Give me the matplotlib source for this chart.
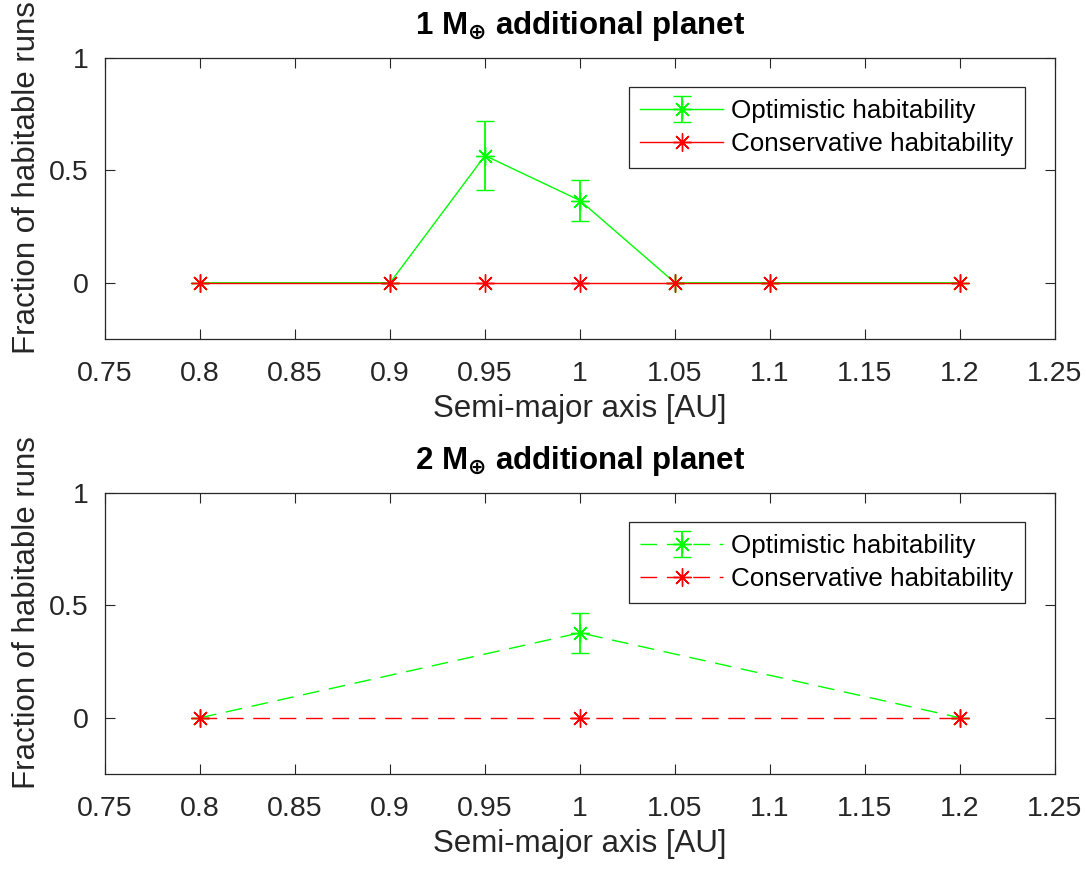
import matplotlib
matplotlib.use("Agg")
import numpy as np
import matplotlib.pyplot as plt

plt.rcParams['font.family'] = ['Liberation Sans', 'DejaVu Sans']
plt.rcParams['mathtext.fontset'] = 'dejavusans'

# 1 Earth-mass companion
a_1me = [0.8, 0.9, 0.95, 1.0, 1.05, 1.1, 1.2]
opt_1me = [0.0, 0.0, 0.566, 0.366, 0.0, 0.0, 0.0]
opt_err_1me = [0.0, 0.0, 0.155, 0.09, 0.0, 0.0, 0.0]
cons_1me = [0.0, 0.0, 0.0, 0.0, 0.0, 0.0, 0.0]

# 2 Earth-mass companion
a_2me = [0.8, 1.0, 1.2]
opt_2me = [0.0, 0.378, 0.0]
opt_err_2me = [0.0, 0.09, 0.0]
cons_2me = [0.0, 0.0, 0.0]

xticks = [0.75, 0.8, 0.85, 0.9, 0.95, 1.0, 1.05, 1.1, 1.15, 1.2, 1.25]
xticklabels = ['0.75', '0.8', '0.85', '0.9', '0.95', '1', '1.05', '1.1', '1.15', '1.2', '1.25']
yticks = [0, 0.5, 1]
yticklabels = ['0', '0.5', '1']

titles = [r'1 M$_{\mathbf{\oplus}}$ additional planet',
          r'2 M$_{\mathbf{\oplus}}$ additional planet']

W, H = 1086, 871
fig = plt.figure(figsize=(W / 100, H / 100), dpi=100)
ax_w = 950 / W
ax_h = 281 / H
ax1 = fig.add_axes([105 / W, 1 - 339 / H, ax_w, ax_h])
ax2 = fig.add_axes([105 / W, 1 - 774 / H, ax_w, ax_h])

GREEN = (0, 1, 0)
RED = (1, 0, 0)
AX = (0.15, 0.15, 0.15)
star = (8, 2, 0)

panels = [
    (ax1, a_1me, opt_1me, opt_err_1me, cons_1me, '-', titles[0]),
    (ax2, a_2me, opt_2me, opt_err_2me, cons_2me, (0, (12, 7)), titles[1]),
]

for ax, a, opt, err, cons, ls, title in panels:
    # points with no spread get no error bar
    err = np.asarray(err, dtype=float)
    err = np.where(err > 0, err, np.nan)
    h_opt = ax.errorbar(a, opt, yerr=err, color=GREEN, ls=ls, lw=1.0,
                        marker=star, ms=13, mew=1.0, capsize=6.5, capthick=1.3,
                        elinewidth=1.3, label='Optimistic habitability', zorder=3)
    h_cons, = ax.plot(a, cons, color=RED, ls=ls, lw=1.0, marker=star, ms=13,
                      mew=1.0, label='Conservative habitability', zorder=4)
    ax.set_xlim(0.75, 1.25)
    ax.set_ylim(-0.25, 1)
    ax.set_xticks(xticks)
    ax.set_xticklabels(xticklabels)
    ax.set_yticks(yticks)
    ax.set_yticklabels(yticklabels)
    ax.tick_params(direction='in', length=7, width=0.8, colors=AX,
                   labelcolor=AX, labelsize=20.5, top=True, right=True)
    ax.tick_params(axis='x', pad=16)
    ax.tick_params(axis='y', pad=12)
    for sp in ax.spines.values():
        sp.set_color(AX)
        sp.set_linewidth(0.9)
    ax.set_xlabel('Semi-major axis [AU]', fontsize=22.5, color=AX, labelpad=5)
    ax.set_ylabel('Fraction of habitable runs', fontsize=22.5, color=AX)
    ax.yaxis.set_label_coords(-0.066, 0.575)
    ax.set_title(title, fontsize=22.5, fontweight='bold', pad=17)
    leg = ax.legend([h_opt, h_cons],
                    ['Optimistic habitability', 'Conservative habitability'],
                    loc='upper right', bbox_to_anchor=(1 - 30 / 950, 1 - 29 / 281),
                    fontsize=18.7, frameon=True, fancybox=False, framealpha=1,
                    edgecolor=AX, handlelength=3.2, borderpad=0.45,
                    labelspacing=0.36, handletextpad=0.3, borderaxespad=0)
    leg.get_frame().set_linewidth(0.9)

fig.savefig('out.png', dpi=100)
